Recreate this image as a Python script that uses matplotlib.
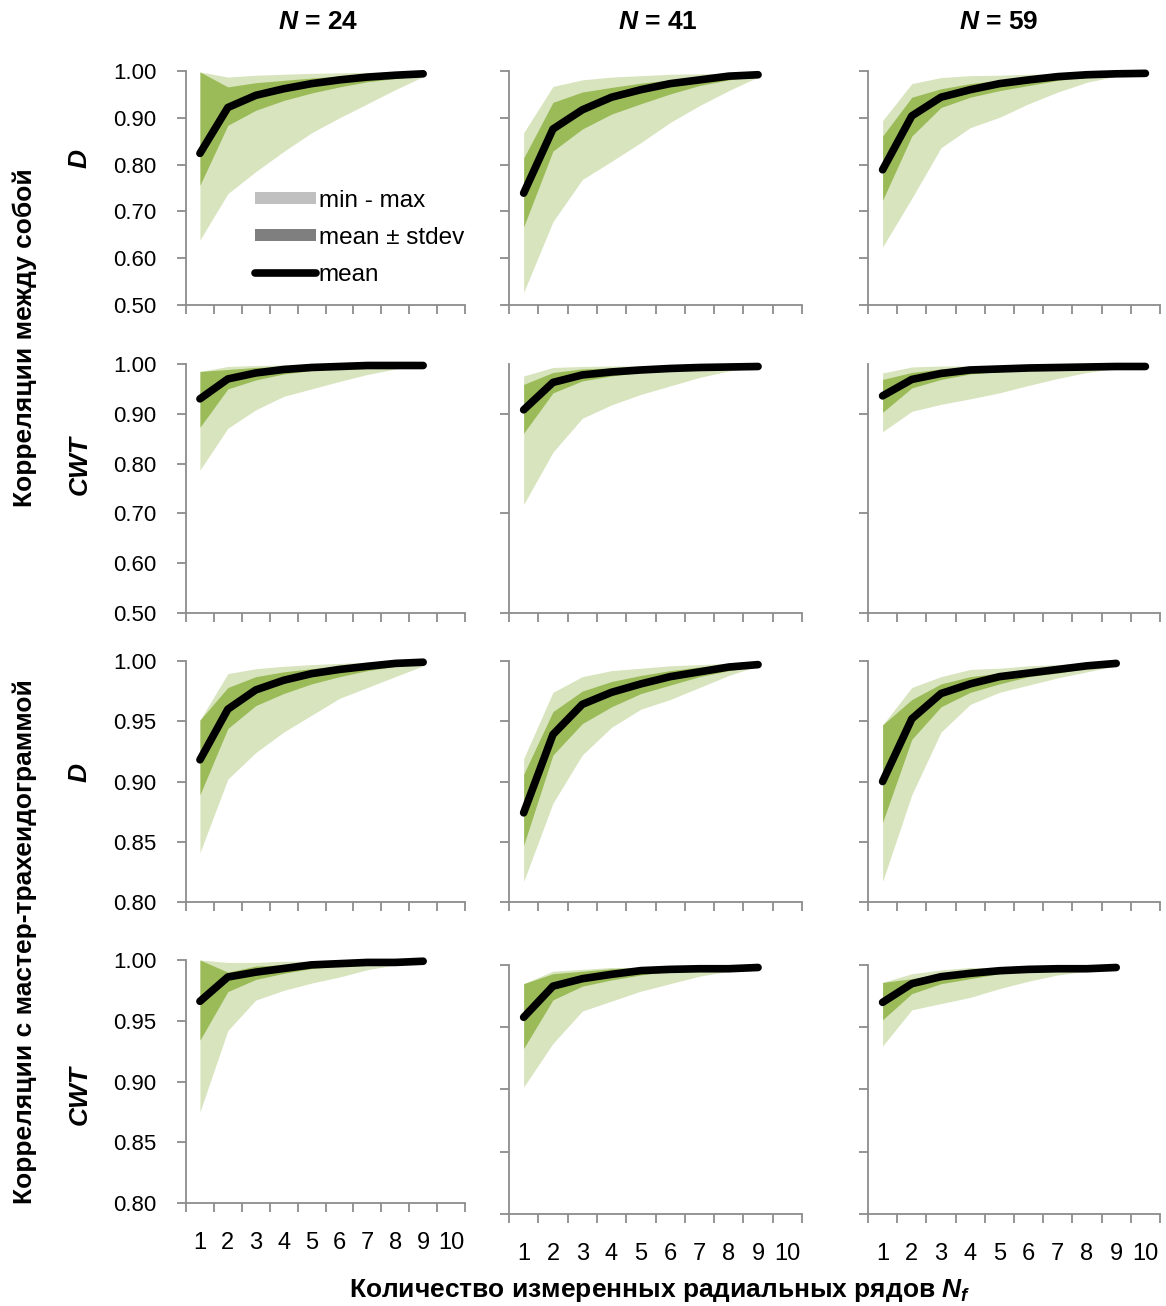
import matplotlib
matplotlib.use("Agg")
import matplotlib.pyplot as plt
from matplotlib.patches import Patch
from matplotlib.lines import Line2D
import numpy as np

plt.rcParams['font.family'] = ['Liberation Sans', 'DejaVu Sans']
plt.rcParams['mathtext.fontset'] = 'custom'
plt.rcParams['mathtext.it'] = 'Liberation Sans:italic:bold'
plt.rcParams['mathtext.rm'] = 'Liberation Sans:bold'

# number of trees in each column
n_trees = [24, 41, 59]
nf_labels = [str(i) for i in range(1, 11)]

# --- correlations between series, D ---
btw_d_mean = [[0.824, 0.922, 0.948, 0.962, 0.973, 0.981, 0.987, 0.991, 0.994],
              [0.739, 0.876, 0.917, 0.944, 0.960, 0.973, 0.981, 0.989, 0.992],
              [0.789, 0.904, 0.944, 0.960, 0.973, 0.981, 0.988, 0.992, 0.994, 0.995]]
btw_d_sdhi = [[0.998, 0.966, 0.975, 0.980, 0.985, 0.989, 0.992, 0.994, 0.996],
              [0.814, 0.933, 0.955, 0.965, 0.974, 0.981, 0.987, 0.990, 0.993],
              [0.861, 0.944, 0.962, 0.973, 0.980, 0.987, 0.990, 0.993, 0.994, 0.995]]
btw_d_sdlo = [[0.756, 0.884, 0.916, 0.937, 0.953, 0.966, 0.977, 0.984, 0.991],
              [0.667, 0.829, 0.876, 0.908, 0.930, 0.951, 0.969, 0.981, 0.990],
              [0.724, 0.861, 0.922, 0.944, 0.958, 0.969, 0.980, 0.987, 0.991, 0.993]]
btw_d_max = [[0.998, 0.987, 0.991, 0.993, 0.995, 0.996, 0.997, 0.997, 0.997],
             [0.868, 0.967, 0.981, 0.987, 0.990, 0.993, 0.994, 0.995, 0.995],
             [0.894, 0.973, 0.986, 0.990, 0.991, 0.993, 0.994, 0.995, 0.995, 0.995]]
btw_d_min = [[0.639, 0.738, 0.785, 0.828, 0.868, 0.900, 0.930, 0.960, 0.988],
             [0.527, 0.678, 0.768, 0.807, 0.847, 0.890, 0.926, 0.958, 0.987],
             [0.624, 0.728, 0.836, 0.879, 0.901, 0.930, 0.955, 0.976, 0.989, 0.993]]

# --- correlations between series, CWT ---
btw_cwt_mean = [[0.930, 0.970, 0.982, 0.989, 0.993, 0.995, 0.997, 0.997, 0.997],
                [0.908, 0.963, 0.978, 0.984, 0.988, 0.991, 0.993, 0.994, 0.995],
                [0.936, 0.969, 0.981, 0.988, 0.990, 0.992, 0.993, 0.994, 0.995, 0.995]]
btw_cwt_sdhi = [[0.985, 0.989, 0.993, 0.995, 0.996, 0.997, 0.998, 0.998, 0.998],
                [0.959, 0.983, 0.990, 0.992, 0.994, 0.995, 0.995, 0.996, 0.996],
                [0.969, 0.983, 0.990, 0.993, 0.994, 0.995, 0.995, 0.996, 0.996, 0.996]]
btw_cwt_sdlo = [[0.873, 0.950, 0.968, 0.980, 0.987, 0.992, 0.995, 0.997, 0.997],
                [0.861, 0.942, 0.966, 0.976, 0.983, 0.988, 0.991, 0.993, 0.995],
                [0.903, 0.952, 0.969, 0.980, 0.985, 0.989, 0.991, 0.993, 0.994, 0.995]]
btw_cwt_max = [[0.985, 0.995, 0.997, 0.998, 0.998, 0.998, 0.998, 0.998, 0.998],
               [0.976, 0.993, 0.995, 0.996, 0.996, 0.996, 0.996, 0.996, 0.996],
               [0.982, 0.994, 0.996, 0.996, 0.996, 0.996, 0.996, 0.996, 0.996, 0.996]]
btw_cwt_min = [[0.787, 0.871, 0.908, 0.935, 0.950, 0.965, 0.979, 0.990, 0.995],
               [0.718, 0.823, 0.891, 0.918, 0.939, 0.956, 0.973, 0.986, 0.993],
               [0.864, 0.905, 0.919, 0.930, 0.942, 0.957, 0.971, 0.983, 0.991, 0.993]]

# --- correlations with master chronology, D ---
mst_d_mean = [[0.918, 0.960, 0.976, 0.984, 0.9895, 0.993, 0.9956, 0.998, 0.999],
              [0.874, 0.939, 0.964, 0.974, 0.981, 0.987, 0.991, 0.995, 0.997],
              [0.900, 0.952, 0.973, 0.981, 0.987, 0.990, 0.993, 0.996, 0.998]]
mst_d_sdhi = [[0.951, 0.978, 0.987, 0.991, 0.9936, 0.9956, 0.997, 0.998, 0.999],
              [0.906, 0.958, 0.975, 0.983, 0.988, 0.992, 0.995, 0.997, 0.997],
              [0.947, 0.968, 0.981, 0.987, 0.990, 0.993, 0.996, 0.997, 0.998]]
mst_d_sdlo = [[0.889, 0.944, 0.963, 0.973, 0.981, 0.987, 0.992, 0.9956, 0.998],
              [0.847, 0.922, 0.948, 0.962, 0.973, 0.980, 0.987, 0.992, 0.996],
              [0.866, 0.935, 0.962, 0.974, 0.981, 0.987, 0.990, 0.994, 0.997]]
mst_d_max = [[0.951, 0.9895, 0.9936, 0.9956, 0.997, 0.998, 0.999, 0.999, 0.999],
             [0.919, 0.974, 0.987, 0.992, 0.994, 0.996, 0.997, 0.998, 0.998],
             [0.947, 0.978, 0.987, 0.993, 0.994, 0.996, 0.997, 0.998, 0.998]]
mst_d_min = [[0.841, 0.902, 0.924, 0.941, 0.955, 0.969, 0.978, 0.987, 0.996],
             [0.817, 0.882, 0.922, 0.945, 0.960, 0.968, 0.978, 0.988, 0.996],
             [0.817, 0.889, 0.941, 0.964, 0.974, 0.980, 0.986, 0.991, 0.996]]

# --- correlations with master chronology, CWT ---
mst_cwt_mean = [[0.966, 0.986, 0.990, 0.993, 0.996, 0.997, 0.998, 0.998, 0.999],
                [0.958, 0.983, 0.989, 0.9925, 0.9955, 0.9965, 0.997, 0.997, 0.998],
                [0.970, 0.985, 0.9906, 0.9933, 0.9954, 0.9965, 0.997, 0.997, 0.998]]
mst_cwt_sdhi = [[1.000, 0.990, 0.995, 0.996, 0.998, 0.998, 0.999, 0.999, 0.999],
                [0.985, 0.993, 0.995, 0.997, 0.998, 0.998, 0.998, 0.998, 0.998],
                [0.986, 0.989, 0.993, 0.996, 0.997, 0.998, 0.998, 0.998, 0.998]]
mst_cwt_sdlo = [[0.934, 0.974, 0.984, 0.989, 0.993, 0.995, 0.997, 0.998, 0.999],
                [0.933, 0.972, 0.983, 0.988, 0.992, 0.995, 0.996, 0.997, 0.998],
                [0.956, 0.977, 0.985, 0.989, 0.993, 0.995, 0.996, 0.997, 0.998]]
mst_cwt_max = [[1.000, 0.998, 0.998, 0.999, 0.999, 0.999, 0.999, 0.999, 0.999],
               [0.985, 0.995, 0.9965, 0.998, 0.998, 0.998, 0.998, 0.998, 0.998],
               [0.986, 0.993, 0.996, 0.998, 0.998, 0.998, 0.998, 0.998, 0.998]]
mst_cwt_min = [[0.875, 0.942, 0.967, 0.975, 0.981, 0.986, 0.992, 0.996, 0.999],
               [0.902, 0.937, 0.963, 0.971, 0.979, 0.985, 0.991, 0.995, 0.997],
               [0.935, 0.964, 0.969, 0.974, 0.981, 0.987, 0.992, 0.995, 0.997]]

rows = [
    (btw_d_min, btw_d_max, btw_d_sdlo, btw_d_sdhi, btw_d_mean),
    (btw_cwt_min, btw_cwt_max, btw_cwt_sdlo, btw_cwt_sdhi, btw_cwt_mean),
    (mst_d_min, mst_d_max, mst_d_sdlo, mst_d_sdhi, mst_d_mean),
    (mst_cwt_min, mst_cwt_max, mst_cwt_sdlo, mst_cwt_sdhi, mst_cwt_mean),
]
row_vars = ['D', 'CWT', 'D', 'CWT']

LIGHT = '#d7e4bd'
DARK = '#9bbb59'
AXCOL = '#8c8c8c'
FS = 16
FS_BIG = 19

W, H = 1166, 1306
fig = plt.figure(figsize=(W / 100, H / 100), dpi=100)

# panel boxes in pixels: (left, right) per column, (top, bottom) per row
col_x = [(186, 465), (509, 802), (868, 1160)]
row_y = [(71, 305), (364, 613), (661, 902), (960, 1203)]
row4_y_right = (965, 1214)
title_x = [318, 658, 998]
var_y = [158, 465, 773, 1095]


def yaxis_setup(ax, r, c):
    if r < 2:
        ax.set_ylim(0.5, 1.0)
        # the right-hand panels of the CWT row only get every other tick
        if r == 1 and c > 0:
            ticks = [0.5, 0.7, 0.9]
        else:
            ticks = np.arange(0.5, 1.001, 0.1)
    else:
        ax.set_ylim(0.8, 1.0)
        ticks = np.arange(0.8, 1.001, 0.05)
    ax.set_yticks(ticks)
    if c == 0:
        ax.set_yticklabels(['%.2f' % t for t in ticks])
    else:
        ax.set_yticklabels([])


for r in range(4):
    for c in range(3):
        l, rr = col_x[c]
        t, b = row_y[r]
        if r == 3 and c > 0:
            t, b = row4_y_right
        ax = fig.add_axes([l / W, 1 - b / H, (rr - l) / W, (b - t) / H])
        lo, hi, sdlo, sdhi, mean = [np.array(a[c]) for a in rows[r]]
        x = np.arange(1, len(mean) + 1)
        ax.fill_between(x, lo, hi, color=LIGHT, lw=0)
        ax.fill_between(x, sdlo, sdhi, color=DARK, lw=0)
        ax.plot(x, mean, color='black', lw=5.5, solid_capstyle='round',
                solid_joinstyle='round', clip_on=False, zorder=5)

        ax.set_xlim(0.5, 10.5)
        ax.set_xticks(np.arange(0.5, 11, 1))
        ax.set_xticklabels([])
        yaxis_setup(ax, r, c)
        if r == 3:
            ax.set_xticks(np.arange(1, 11), minor=True)
            ax.set_xticklabels(nf_labels, minor=True)
        ax.tick_params(axis='x', which='minor', length=0, pad=21, labelsize=FS + 1)
        ax.tick_params(which='major', direction='out', length=6.5, width=1.3,
                       color=AXCOL, labelsize=FS)
        ax.tick_params(axis='y', pad=15)
        for s in ['top', 'right']:
            ax.spines[s].set_visible(False)
        for s in ['left', 'bottom']:
            ax.spines[s].set_color(AXCOL)
            ax.spines[s].set_linewidth(1.3)

        if r == 0 and c == 0:
            handles = [Patch(facecolor='#c0c0c0', edgecolor='none'),
                       Patch(facecolor='#7f7f7f', edgecolor='none'),
                       Line2D([0], [0], color='black', lw=5.5, solid_capstyle='round')]
            ax.legend(handles, ['min - max', 'mean ± stdev', 'mean'],
                      loc='upper left', bbox_to_anchor=(0.205, 0.545), frameon=False,
                      fontsize=17.5, handlelength=2.5, handleheight=0.42,
                      handletextpad=0.1, labelspacing=0.62, borderpad=0)

        if r == 0:
            fig.text(title_x[c] / W, 1 - 22 / H, r'$N$ = %d' % n_trees[c],
                     ha='center', va='center', fontsize=FS_BIG, fontweight='bold')
    fig.text(80 / W, 1 - var_y[r] / H, row_vars[r], rotation=90,
             ha='center', va='center', fontsize=FS_BIG, fontweight='bold',
             fontstyle='italic')

fig.text(25 / W, 1 - 338 / H, 'Корреляции между собой', rotation=90,
         ha='center', va='center', fontsize=FS_BIG, fontweight='bold')
fig.text(25 / W, 1 - 942 / H, 'Корреляции с мастер-трахеидограммой', rotation=90,
         ha='center', va='center', fontsize=FS_BIG, fontweight='bold')
fig.text(660 / W, 1 - 1290 / H, r'Количество измеренных радиальных рядов $N_f$',
         ha='center', va='center', fontsize=FS_BIG, fontweight='bold')

fig.savefig('out.png', dpi=100, facecolor='white')
